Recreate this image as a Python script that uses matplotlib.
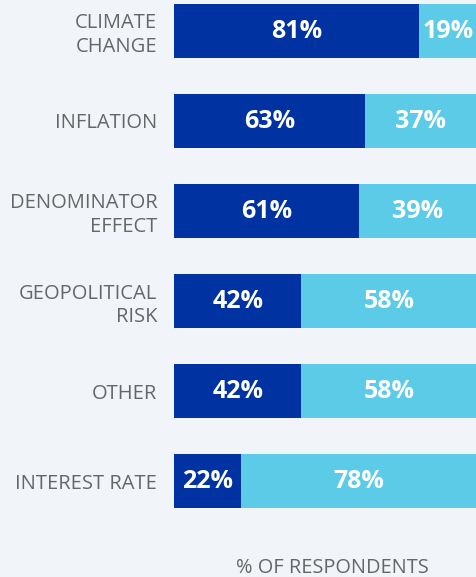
import numpy as np
import matplotlib.pyplot as plt

plt.rcParams['font.family'] = ['Open Sans', 'DejaVu Sans']

categories = ['CLIMATE\nCHANGE', 'INFLATION', 'DENOMINATOR\nEFFECT',
              'GEOPOLITICAL\nRISK', 'OTHER', 'INTEREST RATE']
yes_share = [81, 63, 61, 42, 42, 22]
no_share = [19, 37, 39, 58, 58, 78]

dark = '#0033a1'
light = '#5ccbe8'
bg = '#f1f5f9'

fig = plt.figure(figsize=(4.77, 5.77), dpi=100, facecolor=bg)
ax = fig.add_axes([174 / 477, 0, 303 / 477, 1])
ax.set_facecolor(bg)

y = np.arange(len(categories))
h = 0.59
ax.barh(y, yes_share, height=h, color=dark)
ax.barh(y, no_share, left=yes_share, height=h, color=light)

for i in range(len(categories)):
    ax.text(yes_share[i] / 2, y[i], f'{yes_share[i]}%', ha='center', va='center',
            color='white', fontsize=18, fontweight='bold')
    ax.text(yes_share[i] + no_share[i] / 2, y[i], f'{no_share[i]}%', ha='center',
            va='center', color='white', fontsize=18, fontweight='bold')

ax.set_xlim(0, 100)
ax.set_ylim((577 - 31) / 90, -31 / 90)
ax.set_yticks(y)
ax.set_yticklabels(categories, fontsize=14.5, color='#666666', linespacing=1.2)
ax.tick_params(axis='y', length=0, pad=12)
ax.set_xticks([])
for s in ax.spines.values():
    s.set_visible(False)

fig.text(332 / 477, 1 - 568 / 577, '% OF RESPONDENTS', ha='center', va='center',
         fontsize=14.4, color='#666666')

fig.savefig('out.png', dpi=100, facecolor=bg)
